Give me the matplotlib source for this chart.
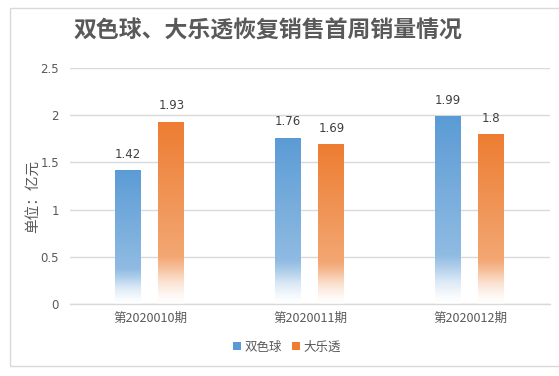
import matplotlib
matplotlib.use("Agg")
import matplotlib.pyplot as plt
import numpy as np
from matplotlib.patches import Rectangle, Patch
from matplotlib.colors import LinearSegmentedColormap, to_rgb

plt.rcParams['font.family'] = ['Noto Sans CJK SC', 'DejaVu Sans']

title = "双色球、大乐透恢复销售首周销量情况"
categories = ["第2020010期", "第2020011期", "第2020012期"]
series_names = ["双色球", "大乐透"]
ssq = [1.42, 1.76, 1.99]
dlt = [1.93, 1.69, 1.8]
ylabel = "单位：亿元"
yticks = [0, 0.5, 1, 1.5, 2, 2.5]
ytick_labels = ["0", "0.5", "1", "1.5", "2", "2.5"]
value_labels_ssq = ["1.42", "1.76", "1.99"]
value_labels_dlt = ["1.93", "1.69", "1.8"]

W, H = 559, 376
fig = plt.figure(figsize=(W/100, H/100), dpi=100)
fig.patch.set_facecolor("white")

# outer frame
fig.patches.append(Rectangle((10/W, (H-366)/H), 1.2, (366-8)/H, transform=fig.transFigure,
                             fill=False, edgecolor="#D9D9D9", linewidth=1.0))

ax = fig.add_axes([70/W, (H-304)/H, 480/W, (304-68)/H])
ax.set_xlim(-0.5, 2.5)
ax.set_ylim(0, 2.5)

colors = ["#5B9BD5", "#ED7D31"]
x = np.arange(len(categories))
w = 0.1625
offs = [-0.1375, 0.134]
grey = "#595959"


def mix(c, f):
    rgb = np.array(to_rgb(c))
    return tuple(rgb * f + (1 - f))


for vals, labs, c, off, name in zip([ssq, dlt], [value_labels_ssq, value_labels_dlt], colors, offs, series_names):
    bars = ax.bar(x + off, vals, width=w, color=c, label=name, zorder=2)
    cmap = LinearSegmentedColormap.from_list("g", [(0, mix(c, 0.0)), (0.04, mix(c, 0.04)),
                                                   (0.12, mix(c, 0.22)), (0.2, mix(c, 0.5)),
                                                   (0.26, mix(c, 0.68)),
                                                   (1, c)])
    for b, v, lab in zip(bars, vals, labs):
        b.set_facecolor("none")
        b.set_edgecolor("none")
        grad = np.linspace(0, 1, 256).reshape(-1, 1)
        img = ax.imshow(grad, cmap=cmap, vmin=0, vmax=1, origin="lower", aspect="auto",
                        extent=[b.get_x(), b.get_x() + b.get_width(), 0, v], zorder=2,
                        interpolation="bilinear")
        img.set_clip_path(b)
        ax.text(b.get_x() + b.get_width()/2, v + 0.1, lab, ha="center", va="bottom",
                fontsize=8.5, color="#404040", family=["DejaVu Sans"], zorder=3)

ax.set_xlim(-0.5, 2.5)
ax.set_ylim(0, 2.5)
ax.set_yticks(yticks)
ax.set_yticklabels(ytick_labels, color=grey, fontsize=8.5, family=["DejaVu Sans"])
ax.set_xticks(x)
ax.set_xticklabels(categories, color=grey, fontsize=9)
ax.tick_params(axis="both", length=0, pad=8)
ax.tick_params(axis="x", pad=6)
ax.grid(axis="y", color="#D9D9D9", linewidth=1.0, zorder=0)
ax.set_axisbelow(True)
for s in ["top", "right", "left"]:
    ax.spines[s].set_visible(False)
ax.spines["bottom"].set_color("#D9D9D9")
ax.spines["bottom"].set_linewidth(1.0)

fig.text(33/W, 1 - 196/H, ylabel, rotation=90, ha="center", va="center", fontsize=10.5, color=grey)
fig.text(268/W, 1 - 31/H, title, ha="center", va="center", fontsize=16.5, fontweight="bold", color="#595959")

handles = [Patch(facecolor=c, edgecolor="none") for c in colors]
fig.legend(handles, series_names, loc="center", bbox_to_anchor=(287/W, 1 - 347/H), ncol=2,
           frameon=False, fontsize=9, handlelength=0.6, handleheight=0.6, handletextpad=0.3,
           columnspacing=0.8, labelcolor=grey)

fig.savefig("out.png", dpi=100, facecolor="white")
